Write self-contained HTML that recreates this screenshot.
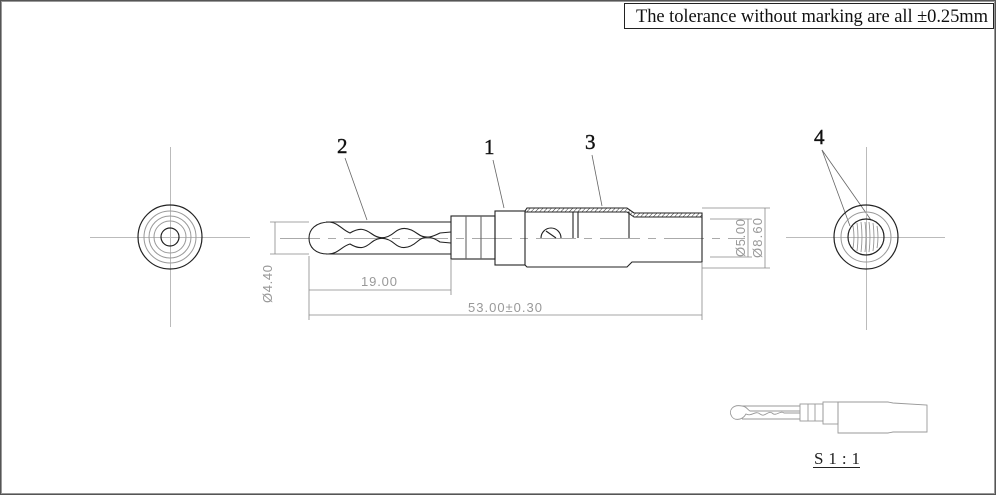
<!DOCTYPE html>
<html><head><meta charset="utf-8"><style>
body{margin:0;background:#fff}
svg{display:block}
text{font-family:"Liberation Sans",sans-serif}
.s{font-family:"Liberation Serif",serif}
</style></head><body>
<svg width="996" height="495" viewBox="0 0 996 495">
<rect x="0.5" y="0.5" width="995" height="494" fill="none" stroke="#555" stroke-width="1"/>
<rect x="1.5" y="1.5" width="993" height="492" fill="none" stroke="#999" stroke-width="1"/>
<rect x="624.5" y="3.5" width="369" height="25" fill="#fff" stroke="#222"/>
<text class="s" x="636" y="22" font-size="18.5" fill="#111" textLength="352">The tolerance without marking are all ±0.25mm</text>

<!-- left end view -->
<g fill="none">
<line x1="90" y1="237.5" x2="250" y2="237.5" stroke="#bbb"/>
<line x1="170.5" y1="147" x2="170.5" y2="327" stroke="#bbb"/>
<circle cx="170" cy="237" r="32" stroke="#222" stroke-width="1.2"/>
<circle cx="170" cy="237" r="26" stroke="#999"/>
<circle cx="170" cy="237" r="21" stroke="#999"/>
<circle cx="170" cy="237" r="16" stroke="#999"/>
<circle cx="170" cy="237" r="9" stroke="#222" stroke-width="1.2"/>
</g>

<!-- main side view -->
<g fill="none" stroke="#222" stroke-width="1.1">
<line x1="280" y1="238.5" x2="745" y2="238.5" stroke="#aaa" stroke-dasharray="40,8,8,8"/>
<path d="M326 222 L451 222 M326 254 L451 254"/>
<path d="M330 222 C315 222 309 230 309 238 C309 247 315 254 328 254 C338 254 342 246 350 244 C360 250 365 248 372 242 C380 236 388 238 395 244 C402 250 410 248 418 241 C426 234 434 238 440 242 L451 243"/>
<path d="M328 222 C338 222 342 230 350 233 C360 227 365 229 372 234 C380 240 388 238 395 232 C402 226 410 228 418 234 C426 240 434 236 440 233 L451 232"/>
<rect x="451" y="216" width="44" height="43"/>
<line x1="466" y1="216" x2="466" y2="259" stroke="#666"/>
<line x1="481" y1="216" x2="481" y2="259" stroke="#666"/>
<rect x="495" y="211" width="30" height="54"/>
<path d="M525 211 L527 208 L627 208 L634 213 L702 213 L702 262 L632 262 L627 267 L527 267 L525 265"/>
<path d="M525 212 L627 212 L634 217 L702 217" stroke-width="1"/>
<line x1="573" y1="212" x2="573" y2="238"/>
<line x1="578" y1="212" x2="578" y2="238"/>
<line x1="629" y1="212" x2="629" y2="238"/>
<path d="M541 238 A10 10 0 0 1 561 238" />
<line x1="546" y1="231" x2="556" y2="238"/>
</g>
<path d="M527 208 L627 208 L634 213 L702 213 L702 217 L634 217 L627 212 L525 212 Z" fill="url(#h)"/>
<defs><pattern id="h" width="3" height="3" patternUnits="userSpaceOnUse" patternTransform="rotate(45)"><line x1="0" y1="0" x2="0" y2="3" stroke="#333" stroke-width="1"/></pattern></defs>

<!-- dims -->
<g stroke="#888" fill="none" stroke-width="0.8">
<line x1="270" y1="222" x2="309" y2="222"/><line x1="270" y1="254" x2="309" y2="254"/>
<line x1="275" y1="222" x2="275" y2="254"/>
<line x1="309" y1="256" x2="309" y2="320"/>
<line x1="451" y1="260" x2="451" y2="295"/>
<line x1="702" y1="262" x2="702" y2="320"/>
<line x1="309" y1="290" x2="451" y2="290"/>
<line x1="309" y1="315" x2="702" y2="315"/>
<line x1="702" y1="208" x2="770" y2="208"/><line x1="702" y1="268" x2="770" y2="268"/>
<line x1="765" y1="208" x2="765" y2="268"/>
<line x1="710" y1="219" x2="752" y2="219"/><line x1="710" y1="257" x2="752" y2="257"/>
<line x1="748" y1="219" x2="748" y2="257"/>
</g>
<g fill="#999" font-size="13">
<text x="361" y="286" textLength="36">19.00</text>
<text x="468" y="312" textLength="74">53.00±0.30</text>
<text transform="translate(272,303) rotate(-90)" textLength="38">Ø4.40</text>
<text transform="translate(745,257) rotate(-90)" textLength="38">Ø5.00</text>
<text transform="translate(762,258) rotate(-90)" textLength="40">Ø8.60</text>
</g>

<!-- leaders & labels -->
<g stroke="#666" stroke-width="0.8" fill="none">
<line x1="345" y1="158" x2="367" y2="220"/>
<line x1="493" y1="160" x2="504" y2="208"/>
<line x1="592" y1="155" x2="602" y2="206"/>
<line x1="822" y1="150" x2="850" y2="226"/>
<line x1="822" y1="150" x2="871" y2="220"/>
</g>
<g fill="#111" stroke="#111" stroke-width="0.4">
<text class="s" x="337" y="153" font-size="21">2</text>
<text class="s" x="484" y="154" font-size="21">1</text>
<text class="s" x="585" y="149" font-size="21">3</text>
<text class="s" x="814" y="144" font-size="21">4</text>
</g>

<!-- right end view -->
<g fill="none">
<line x1="786" y1="237.5" x2="945" y2="237.5" stroke="#bbb"/>
<line x1="866.5" y1="147" x2="866.5" y2="330" stroke="#bbb"/>
<circle cx="866" cy="237" r="32" stroke="#222" stroke-width="1.2"/>
<circle cx="866" cy="237" r="25" stroke="#999"/>
<circle cx="866" cy="237" r="18" stroke="#222" stroke-width="1.2"/>
<path d="M853 226 q2 11 0 22 M857 223 q2 14 0 28 M861 222 q2 15 0 30 M865 222 q2 15 0 30 M869 222 q2 15 0 30 M873 223 q2 14 0 28 M877 226 q2 11 0 22" stroke="#888" stroke-width="0.8"/>
</g>

<!-- small view -->
<g fill="none" stroke="#999" stroke-width="0.9">
<path d="M742 406 C732 404 729 411 731 415 C733 421 742 421 746 414 C752 417 755 410 760 414 C765 418 768 410 772 413 C776 417 780 410 784 413 L800 413"/>
<path d="M742 406 C746 406 748 410 750 411 L800 411"/>
<line x1="742" y1="406" x2="800" y2="406"/><line x1="742" y1="419" x2="800" y2="419"/>
<rect x="800" y="404" width="23" height="17"/>
<line x1="808" y1="404" x2="808" y2="421"/><line x1="815" y1="404" x2="815" y2="421"/>
<rect x="823" y="402" width="15" height="22"/>
<path d="M838 402 L888 402 L893 403 L927 405 L927 432 L893 432 L888 433 L838 433 Z"/>
</g>
<text class="s" x="814" y="464" font-size="17" fill="#222" textLength="46">S 1 : 1</text>
<line x1="813" y1="467.5" x2="860" y2="467.5" stroke="#222"/>
</svg>
</body></html>
